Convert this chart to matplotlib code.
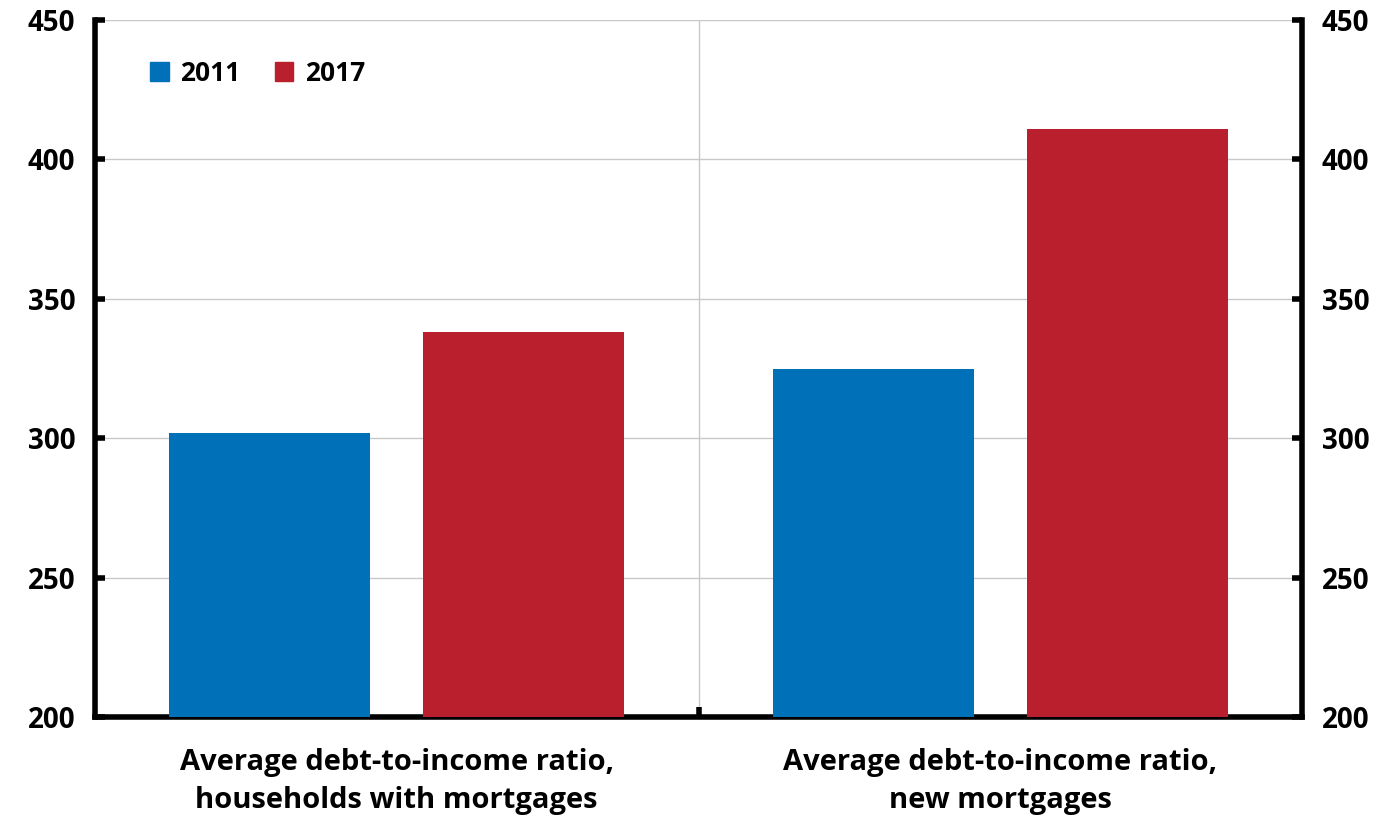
import matplotlib.pyplot as plt
from matplotlib.patches import Patch

categories = ["Average debt-to-income ratio,\nhouseholds with mortgages",
              "Average debt-to-income ratio,\nnew mortgages"]
years = ["2011", "2017"]
values_2011 = [302, 325]
values_2017 = [338, 411]
yticks = [200, 250, 300, 350, 400, 450]

blue = "#0070B8"
red = "#BA1F2E"

plt.rcParams['font.family'] = ['Open Sans', 'DejaVu Sans']
plt.rcParams['font.weight'] = 'bold'

fig = plt.figure(figsize=(13.84, 8.22), dpi=100)
ax = fig.add_axes([0.0686, 0.1277, 0.8722, 0.848])

x = list(range(len(categories)))
w = 0.333
off = 0.21
ax.bar([i - off for i in x], [v - 200 for v in values_2011], w, bottom=200, color=blue, zorder=3)
ax.bar([i + off for i in x], [v - 200 for v in values_2017], w, bottom=200, color=red, zorder=3)

ax.set_xlim(-0.5, 1.5)
ax.set_ylim(200, 450)
ax.set_yticks(yticks)
ax.tick_params(axis='y', which='both', direction='in', length=7, width=4,
               labelsize=20, pad=14, left=True, right=True, labelleft=True, labelright=True)

# category labels under the bars, single tick between the groups
ax.set_xticks([0.5])
ax.set_xticklabels([""])
ax.tick_params(axis='x', direction='in', length=7, width=4)
for i, c in zip(x, categories):
    ax.text(i, 189, c, ha='center', va='top', fontsize=21, fontweight='bold',
            linespacing=1.4)

ax.grid(axis='y', color='#c8c8c8', linewidth=1, zorder=0)
ax.axvline(0.5, color='#c8c8c8', linewidth=1, zorder=0)

for s in ['left', 'right', 'bottom']:
    ax.spines[s].set_linewidth(4)
    ax.spines[s].set_color('black')
ax.spines['top'].set_visible(False)

handles = [Patch(color=blue, label=years[0]), Patch(color=red, label=years[1])]
ax.legend(handles=handles, loc='upper left', bbox_to_anchor=(0.026, 0.977), ncol=2,
          frameon=False, handlelength=0.7, handleheight=0.7,
          handletextpad=0.45, columnspacing=1.3, prop={'weight': 'bold', 'size': 19})

fig.savefig("out.png", dpi=100)
